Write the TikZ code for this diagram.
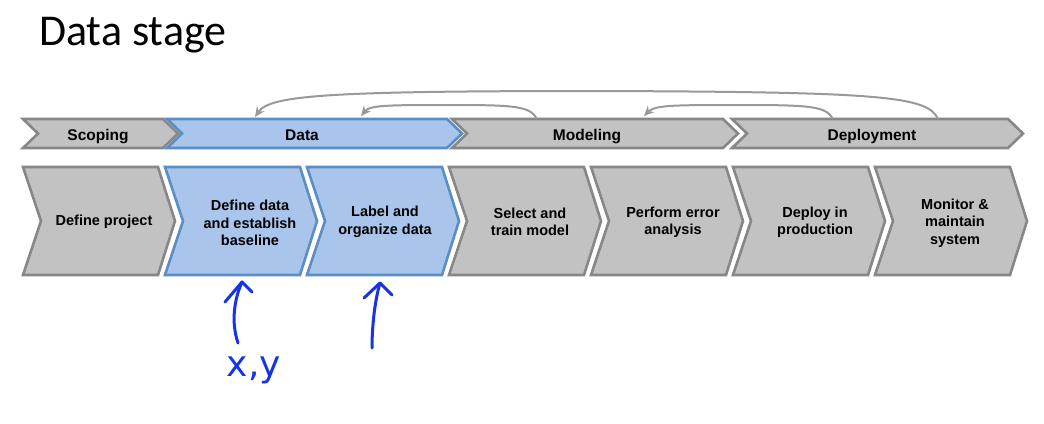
\documentclass[tikz,border=0pt]{standalone}
\usepackage{fontspec}
\setmainfont{Liberation Sans}
\newfontfamily\titlefont{Carlito}
\newfontfamily\handfont{DejaVu Sans}
\usetikzlibrary{arrows.meta}
\definecolor{grayfill}{HTML}{C2C2C2}
\definecolor{grayline}{HTML}{878787}
\definecolor{bluefill}{HTML}{AAC5EB}
\definecolor{blueline}{HTML}{5A8EC4}
\definecolor{arrowgray}{HTML}{999999}
\definecolor{handblue}{HTML}{1733E6}
\tikzset{
  gbox/.style={fill=grayfill, draw=grayline, line width=2.6pt, line join=miter},
  bbox/.style={fill=bluefill, draw=blueline, line width=2.6pt, line join=miter},
  lab/.style={font=\bfseries\fontsize{14.5}{17.5}\selectfont, align=center, text=black, inner sep=0pt},
  toplab/.style={font=\bfseries\fontsize{15.5}{18}\selectfont, text=black, inner sep=0pt, anchor=base},
  fb/.style={draw=arrowgray, line width=2pt, -{Stealth[length=10pt,width=9pt]}},
  hand/.style={draw=handblue, line width=3pt, line cap=round, line join=round},
}
% bottom chevron: left x, style
\newcommand\chevBot[2]{\draw[#2] (#1,167) -- ({#1+135},167) -- ({#1+152},221) -- ({#1+135},275) -- (#1,275) -- ({#1+18},221) -- cycle;}
% top chevron: left x, corner x, style
\newcommand\chevTop[3]{\draw[#3] (#1,119) -- (#2,119) -- ({#2+15},133.5) -- (#2,148) -- (#1,148) -- ({#1+15},133.5) -- cycle;}
\begin{document}
\begin{tikzpicture}[x=1pt,y=-1pt]
\useasboundingbox (0,0) rectangle (1044,423);
\fill[white] (0,0) rectangle (1044,423);

\node[anchor=base west, inner sep=0pt, font=\titlefont\fontsize{44}{50}\selectfont] (title) at (39,45) {Data stage};

% top row
\chevTop{23}{163}{gbox}
\chevTop{452}{723}{gbox}
\chevTop{732}{1008}{gbox}
\chevTop{167}{447}{bbox}
\node[toplab] (scoping) at (98,140) {Scoping};
\node[toplab] (data) at (302,140) {Data};
\node[toplab] (modeling) at (587,140) {Modeling};
\node[toplab] (deployment) at (872,140) {Deployment};

% bottom row
\chevBot{23}{gbox}
\chevBot{449}{gbox}
\chevBot{591}{gbox}
\chevBot{733}{gbox}
\chevBot{875}{gbox}
\chevBot{165}{bbox}
\chevBot{307}{bbox}
\node[lab] (s1) at (104,222) {Define project};
\node[lab] (s2) at (250,223) {Define data\\and establish\\baseline};
\node[lab] (s3) at (385,222) {Label and\\organize data};
\node[lab] (s4) at (530,222) {Select and\\train model};
\node[lab] (s5) at (673,222) {Perform error\\analysis};
\node[lab] (s6) at (815,222) {Deploy in\\production};
\node[lab] (s7) at (955,223) {Monitor \&\\maintain\\system};

% feedback arrows
\coordinate (f1s) at (938,119);
\coordinate (f1e) at (255,117);
\coordinate (f2s) at (537,119);
\coordinate (f2e) at (361,116);
\coordinate (f3s) at (833,119);
\coordinate (f3e) at (644,116);
\draw[fb] (f1s) .. controls (928,96) and (880,92) .. (600,91) .. controls (330,91) and (270,95) .. (f1e);
\draw[fb] (f2s) .. controls (530,106) and (515,105) .. (450,105) .. controls (390,105) and (370,105) .. (f2e);
\draw[fb] (f3s) .. controls (826,106) and (810,105) .. (740,105) .. controls (675,105) and (655,105) .. (f3e);

% handwritten arrows
\coordinate (h1b) at (238,343);
\coordinate (h1t) at (242,282);
\coordinate (h2b) at (372,348);
\coordinate (h2t) at (380,283);
\draw[hand] (h1b) .. controls (231,322) and (234,300) .. (h1t);
\draw[hand] (225,302) -- (h1t) -- (252,292);
\draw[hand] (h2b) .. controls (372,325) and (375,300) .. (h2t);
\draw[hand] (364,298) -- (h2t) -- (392,295);
\node[font=\handfont\fontsize{36}{42}\selectfont, text=handblue, inner sep=0pt] (xy) at (254,370) {x,y};
\end{tikzpicture}
\end{document}
